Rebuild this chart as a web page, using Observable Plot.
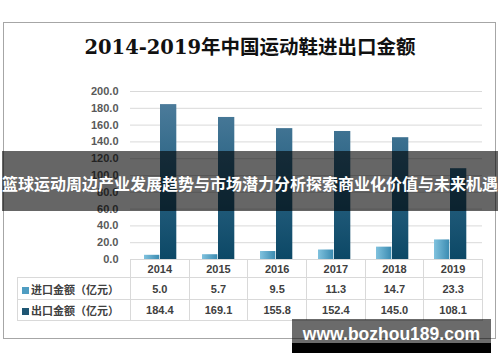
<!DOCTYPE html>
<html><head><meta charset="utf-8">
<script src="https://cdn.jsdelivr.net/npm/d3@7"></script>
<script src="https://cdn.jsdelivr.net/npm/@observablehq/plot@0.6"></script>
<style>
body{margin:0;background:#fff;}
#wrap{position:relative;width:500px;height:362px;overflow:hidden;background:#fff;}
#frame{position:absolute;left:3px;top:22px;width:493px;height:317px;border:1px solid #a6a6a6;box-sizing:border-box;}
#chart{position:absolute;left:0;top:0;}
#title{position:absolute;left:0;top:34px;width:500px;text-align:center;font-family:"DejaVu Serif","Noto Sans CJK SC",serif;font-weight:bold;font-size:19.5px;line-height:28px;color:#111;white-space:nowrap;}
#tbl{position:absolute;left:17px;top:259px;border-collapse:collapse;table-layout:fixed;font-family:"Liberation Sans","Noto Sans CJK SC",sans-serif;font-weight:bold;font-size:11px;color:#404040;}
#tbl td{border:1px solid #d9d9d9;text-align:center;padding:0;}
#tbl tr.h td{height:17px;}
#tbl tr.r1 td{height:21px;}
#tbl tr.r2 td{height:20px;}
#tbl td.lab{text-align:left;padding-left:4px;font-family:"Noto Sans CJK SC",sans-serif;font-size:11px;}
#tbl td.blank{border-top:none;border-left:none;}
.mk{display:inline-block;width:7px;height:7px;margin-right:2px;vertical-align:0px;}
#banner{position:absolute;left:2px;top:151px;width:496px;height:60px;background:rgba(0,0,0,0.6);color:#fff;font-family:"Noto Sans CJK SC",sans-serif;font-weight:bold;font-size:16px;line-height:60px;text-align:center;white-space:nowrap;padding-top:2px;box-sizing:border-box;}
#wm{position:absolute;left:292px;top:319px;width:199px;height:24px;background:rgba(0,0,0,0.58);}
#wmb{position:absolute;left:292px;top:343px;width:199px;height:10px;background:#000;}
#wmt{position:absolute;left:292px;top:323px;width:199px;text-align:center;color:#fff;font-family:"Liberation Sans",sans-serif;font-weight:bold;font-size:17.5px;line-height:22px;white-space:nowrap;}
</style></head><body><div id="wrap">
<div id="frame"></div>
<div id="title"></div>
</div>
<script>
const titleText = "2014-2019年中国运动鞋进出口金额";
const bannerText = "篮球运动周边产业发展趋势与市场潜力分析探索商业化价值与未来机遇";
const watermarkText = "www.bozhou189.com";
const years = ["2014", "2015", "2016", "2017", "2018", "2019"];
const importValues = [5.0, 5.7, 9.5, 11.3, 14.7, 23.3];
const exportValues = [184.4, 169.1, 155.8, 152.4, 145.0, 108.1];
const seriesLabels = ["进口金额（亿元）", "出口金额（亿元）"];
const seriesColors = ["#4f9dc2", "#1f5673"];
const yTicks = [0, 20, 40, 60, 80, 100, 120, 140, 160, 180, 200];

const wrap = document.getElementById("wrap");
document.getElementById("title").textContent = titleText;

const rows = years.flatMap((yr, i) => [
  {year: yr, series: "import", value: importValues[i]},
  {year: yr, series: "export", value: exportValues[i]}
]);

const chart = Plot.plot({
  width: 500, height: 362,
  marginLeft: 130, marginRight: 18, marginTop: 91, marginBottom: 103,
  style: {background: "transparent", fontFamily: "Liberation Sans, sans-serif", fontSize: "11px", fontWeight: "bold", color: "#595959"},
  x: {domain: years, padding: 0, axis: null},
  y: {domain: [0, 200], ticks: yTicks, tickFormat: d => d.toFixed(1), tickSize: 0, tickPadding: 12, label: null},
  marks: [
    Plot.ruleY(yTicks, {stroke: "#d9d9d9", strokeWidth: 1}),
    Plot.barY(rows.filter(d => d.series === "import"), {x: "year", y: "value", fill: "url(#gImp)", insetLeft: 12, insetRight: 30.7}),
    Plot.barY(rows.filter(d => d.series === "export"), {x: "year", y: "value", fill: "url(#gExp)", insetLeft: 28, insetRight: 13.7})
  ]
});
chart.id = "chart";
const defs = d3.select(chart).insert("defs", ":first-child");
const gi = defs.append("linearGradient").attr("id", "gImp").attr("x1", 0).attr("x2", 1).attr("y1", 0).attr("y2", 0);
gi.append("stop").attr("offset", "0%").attr("stop-color", "#80c2de");
gi.append("stop").attr("offset", "100%").attr("stop-color", "#3b8bb1");
const ge = defs.append("linearGradient").attr("id", "gExp").attr("gradientUnits", "userSpaceOnUse").attr("x1", 0).attr("x2", 0).attr("y1", 91).attr("y2", 259);
ge.append("stop").attr("offset", "0%").attr("stop-color", "#517f9e");
ge.append("stop").attr("offset", "45%").attr("stop-color", "#2f6787");
ge.append("stop").attr("offset", "100%").attr("stop-color", "#0c4866");
wrap.appendChild(chart);

// data table
const tbl = document.createElement("table");
tbl.id = "tbl";
const colg = document.createElement("colgroup");
[113, ...years.map(() => 352 / 6)].forEach(w => { const c = document.createElement("col"); c.style.width = w + "px"; colg.appendChild(c); });
tbl.appendChild(colg);
const hr = tbl.insertRow(); hr.className = "h";
const hb = hr.insertCell(); hb.className = "blank";
years.forEach(yr => { hr.insertCell().textContent = yr; });
[importValues, exportValues].forEach((vals, si) => {
  const tr = tbl.insertRow(); tr.className = si === 0 ? "r1" : "r2";
  const lc = tr.insertCell(); lc.className = "lab";
  const mk = document.createElement("span"); mk.className = "mk"; mk.style.background = seriesColors[si];
  lc.appendChild(mk); lc.appendChild(document.createTextNode(seriesLabels[si]));
  vals.forEach(v => { tr.insertCell().textContent = v.toFixed(1); });
});
tbl.style.width = "465px";
wrap.appendChild(tbl);

const banner = document.createElement("div"); banner.id = "banner"; banner.textContent = bannerText; wrap.appendChild(banner);
const wm = document.createElement("div"); wm.id = "wm"; wrap.appendChild(wm);
const wmb = document.createElement("div"); wmb.id = "wmb"; wrap.appendChild(wmb);
const wmt = document.createElement("div"); wmt.id = "wmt"; wmt.textContent = watermarkText; wrap.appendChild(wmt);
</script>
</body></html>
